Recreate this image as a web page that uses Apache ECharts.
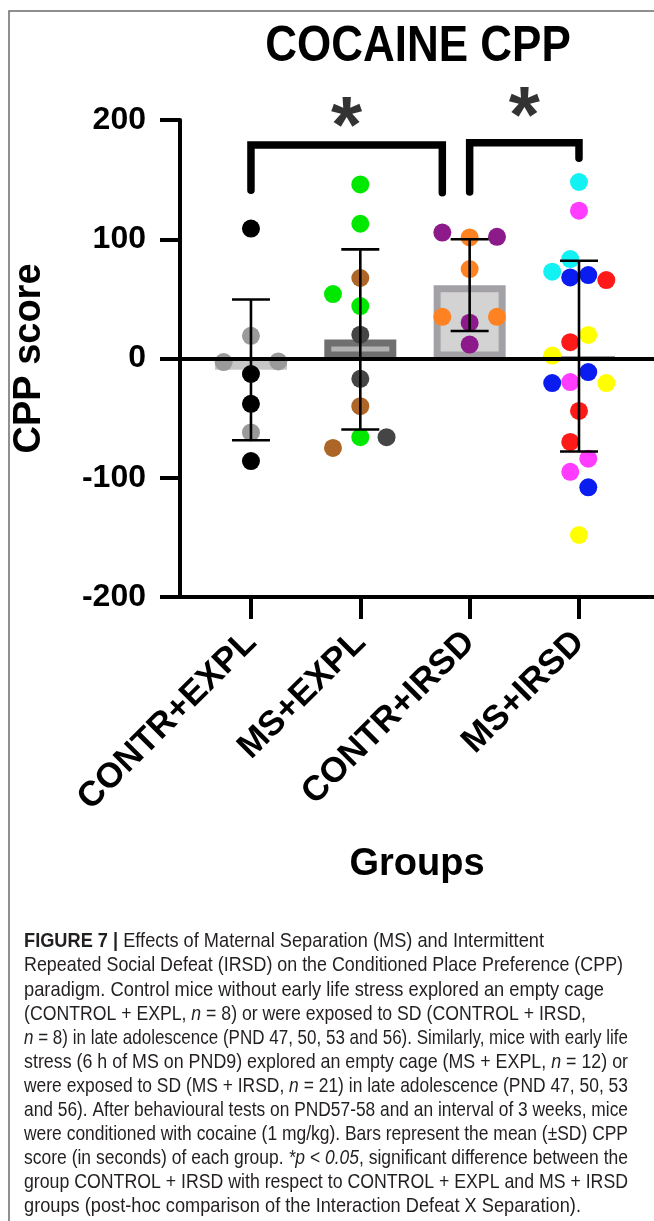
<!DOCTYPE html>
<html><head><meta charset="utf-8">
<script src="https://cdn.jsdelivr.net/npm/echarts@6/dist/echarts.min.js"></script>
<style>html,body{margin:0;padding:0;background:#fff}#c{width:654px;height:1221px}</style>
</head><body><div id="c"></div>
<script>
// ---------- data ----------
const categories = ['CONTR+EXPL', 'MS+EXPL', 'CONTR+IRSD', 'MS+IRSD'];
const yTickValues = [-200, -100, 0, 100, 200];
const barMeans = [-9.5, 16, 61.5, 2];
const barSD = [59, 75.5, 38.5, 80];
// individual animals: [group position (with jitter), CPP score]
const grayDots = [[0, 19], [-0.25, -3], [0.25, -2.5], [0, -62]];
const blackDots = [[0, 109], [0, -13], [0, -38], [0, -86]];
const greenDots = [[1, 146], [1, 113], [0.75, 54], [1, 44], [1, -66]];
const brownDots = [[1, 67.5], [1, -40], [0.75, -75]];
const darkGrayDots = [[1, 20], [1, -17], [1.24, -66]];
const purpleDots = [[1.75, 105.6], [2.25, 102], [2, 30], [2, 11.7]];
const orangeDots = [[2, 101.5], [2, 75], [1.75, 35], [2.25, 35]];
const cyanDots = [[3, 148], [2.92, 83.4], [2.755, 72.8]];
const blueDots = [[2.92, 68], [3.085, 70], [3.085, -11.4], [2.755, -20.6], [3.085, -108]];
const magentaDots = [[3, 124], [2.92, -19.8], [3.085, -84], [2.92, -95]];
const redDots = [[3.25, 65.8], [2.92, 13.7], [3, -44], [2.92, -70]];
const yellowDots = [[3.085, 19.8], [2.755, 2.5], [3.25, -20.6], [3, -148]];
// significance brackets: [from, to, top, left leg end, right leg end]
const brackets = [[0, 1.75, 179, 141, 139], [2, 3, 181, 139.6, 168]];
const starMarks = [[0.875, 206], [2.5, 214]];
const captionLines = [
  [['FIGURE 7 | ', 'b'], ['Effects of Maternal Separation (MS) and Intermittent', '']],
  [['Repeated Social Defeat (IRSD) on the Conditioned Place Preference (CPP)', '']],
  [['paradigm. Control mice without early life stress explored an empty cage', '']],
  [['(CONTROL + EXPL, ', ''], ['n', 'i'], [' = 8) or were exposed to SD (CONTROL + IRSD,', '']],
  [['n', 'i'], [' = 8) in late adolescence (PND 47, 50, 53 and 56). Similarly, mice with early life', '']],
  [['stress (6 h of MS on PND9) explored an empty cage (MS + EXPL, ', ''], ['n', 'i'], [' = 12) or', '']],
  [['were exposed to SD (MS + IRSD, ', ''], ['n', 'i'], [' = 21) in late adolescence (PND 47, 50, 53', '']],
  [['and 56). After behavioural tests on PND57-58 and an interval of 3 weeks, mice', '']],
  [['were conditioned with cocaine (1 mg/kg). Bars represent the mean (\u00b1SD) CPP', '']],
  [['score (in seconds) of each group. ', ''], ['*p < 0.05', 'i'], [', significant difference between the', '']],
  [['group CONTROL + IRSD with respect to CONTROL + EXPL and MS + IRSD', '']],
  [['groups (post-hoc comparison of the Interaction Defeat X Separation).', '']]
];

// ---------- styles / layout ----------
const FONT = '"Liberation Sans", Arial, sans-serif';
const barStyles = [
  { border: '#c6c6c6', fill: '#d2d2d2' },
  { border: '#6f6f6f', fill: '#b3b3b3' },
  { border: '#a3a1a6', fill: '#d3d3d3' },
  { border: '#9a9a9a', fill: '#e0e0e0' }
];
const dotSeries = [
  [grayDots, '#9a9a9a'], [blackDots, '#000000'],
  [greenDots, '#00e800'], [brownDots, '#ad6628'], [darkGrayDots, '#454545'],
  [purpleDots, '#8c1a8a'], [orangeDots, '#ff8222'],
  [cyanDots, '#12f2f2'], [blueDots, '#0a1cf0'], [magentaDots, '#ff3cff'],
  [redDots, '#ff1a1a'], [yellowDots, '#ffff00']
];
const capLeft = 24;
const capRight = [544, 623, 604, 586, 628, 628, 628, 628, 628, 628, 628, 581];
const capY0 = 942, capStep = 24.1, capSize = 18.5;

const chart = echarts.init(document.getElementById('c'), null, { renderer: 'canvas' });

// measure caption lines to fit the reference line widths
const mctx = document.createElement('canvas').getContext('2d');
function fontStr(t) {
  return (t === 'i' ? 'italic ' : '') + (t === 'b' ? 'bold ' : '') + capSize + 'px ' + FONT;
}
const captionGraphics = captionLines.map((segs, k) => {
  let w = 0, txt = '';
  segs.forEach(([s, t]) => {
    mctx.font = fontStr(t);
    w += mctx.measureText(s).width;
    txt += t ? '{' + t + '|' + s + '}' : '{r|' + s + '}';
  });
  return {
    type: 'text', x: capLeft, y: capY0 + k * capStep,
    scaleX: (capRight[k] - capLeft) / w, scaleY: 1.05,
    style: {
      text: txt, fill: '#231f20', fontSize: capSize, fontFamily: FONT,
      textAlign: 'left', textVerticalAlign: 'middle',
      rich: {
        r: { fontSize: capSize, fontFamily: FONT, fill: '#231f20' },
        b: { fontSize: capSize, fontFamily: FONT, fontWeight: 'bold', fill: '#231f20' },
        i: { fontSize: capSize, fontFamily: FONT, fontStyle: 'italic', fill: '#231f20' }
      }
    }
  };
});

const series = [];
// bars
series.push({
  type: 'custom', z: 1,
  data: barMeans.map((m, i) => [i, m]),
  renderItem(params, api) {
    const i = api.value(0), m = api.value(1);
    const p0 = api.coord([i, 0]), p1 = api.coord([i, m]);
    const half = 36, bw = 7;
    const top = Math.min(p0[1], p1[1]), h = Math.abs(p1[1] - p0[1]);
    const st = barStyles[params.dataIndex];
    const children = [{ type: 'rect', shape: { x: p0[0] - half, y: top, width: half * 2, height: h }, style: { fill: st.border } }];
    if (h > 2 * bw) children.push({ type: 'rect', shape: { x: p0[0] - half + bw, y: top + bw, width: half * 2 - 2 * bw, height: h - 2 * bw }, style: { fill: st.fill } });
    return { type: 'group', children };
  }
});
// dots
dotSeries.forEach(([d, c]) => series.push({
  type: 'scatter', z: 2, data: d, symbolSize: 18, itemStyle: { color: c, opacity: 1 }, silent: true
}));
// zero line
series.push({
  type: 'line', z: 3, data: [],
  markLine: { silent: true, symbol: 'none', animation: false, label: { show: false },
    lineStyle: { color: '#000', width: 4, type: 'solid' }, data: [{ yAxis: 0 }] }
});
// error bars
series.push({
  type: 'custom', z: 4,
  data: barMeans.map((m, i) => [i, m, barSD[i]]),
  renderItem(params, api) {
    const i = api.value(0), m = api.value(1), sd = api.value(2);
    const a = api.coord([i, m + sd]), b = api.coord([i, m - sd]);
    const cw = 19;
    const st = { stroke: '#000', lineWidth: 2.6 };
    return { type: 'group', children: [
      { type: 'line', shape: { x1: a[0], y1: a[1], x2: b[0], y2: b[1] }, style: st },
      { type: 'line', shape: { x1: a[0] - cw, y1: a[1], x2: a[0] + cw, y2: a[1] }, style: st },
      { type: 'line', shape: { x1: b[0] - cw, y1: b[1], x2: b[0] + cw, y2: b[1] }, style: st }
    ]};
  }
});
// brackets
brackets.forEach(([f, t, top, l, r]) => series.push({
  type: 'line', z: 5, symbol: 'none', silent: true, clip: false,
  data: [[f, l], [f, top], [t, top], [t, r]],
  lineStyle: { color: '#000', width: 7.5, cap: 'round', join: 'miter' }
}));
// stars
series.push({
  type: 'scatter', z: 6, clip: false, silent: true, data: starMarks, symbolSize: 1,
  itemStyle: { color: 'rgba(0,0,0,0)' },
  label: { show: true, position: 'inside', formatter: '*', color: '#000', fontSize: 80, fontWeight: 'bold', fontFamily: FONT, offset: [0, 17] }
});

chart.setOption({
  animation: false,
  backgroundColor: '#fff',
  grid: { left: 180, right: 0, top: 120, bottom: 624, containLabel: false },
  xAxis: {
    type: 'value', min: -0.649, max: 3.686,
    splitLine: { show: false },
    axisLine: { show: true, onZero: false, lineStyle: { color: '#000', width: 4 } },
    axisTick: { show: true, customValues: [0, 1, 2, 3], length: 22, lineStyle: { color: '#000', width: 4 } },
    axisLabel: { customValues: [0, 1, 2, 3], formatter: v => categories[Math.round(v)], rotate: 45, margin: 40,
      fontSize: 35, fontWeight: 'bold', fontFamily: FONT, color: '#000' },
    name: 'Groups', nameLocation: 'middle', nameGap: 268,
    nameTextStyle: { fontSize: 38, fontWeight: 'bold', fontFamily: FONT, color: '#000', verticalAlign: 'middle' }
  },
  yAxis: {
    type: 'value', min: -200, max: 200, interval: 100,
    splitLine: { show: false },
    axisLine: { show: true, onZero: false, lineStyle: { color: '#000', width: 4 } },
    axisTick: { show: true, length: 20, lineStyle: { color: '#000', width: 4 } },
    axisLabel: { margin: 34, fontSize: 32, fontWeight: 'bold', fontFamily: FONT, color: '#000',
      customValues: yTickValues },
    name: 'CPP score', nameLocation: 'middle', nameGap: 150,
    nameTextStyle: { fontSize: 38, fontWeight: 'bold', fontFamily: FONT, color: '#000', verticalAlign: 'middle' }
  },
  graphic: [
    { type: 'polyline', shape: { points: [[9, 1221], [9, 11], [654, 11]] }, style: { stroke: '#6b6b6b', lineWidth: 1.5, fill: null } },
    { type: 'text', x: 418, y: 47, scaleY: 1.12, style: { text: 'COCAINE CPP', fontSize: 44, fontWeight: 'bold', fontFamily: FONT, fill: '#000', textAlign: 'center', textVerticalAlign: 'middle' } },
    ...captionGraphics
  ],
  series
});
</script></body></html>
